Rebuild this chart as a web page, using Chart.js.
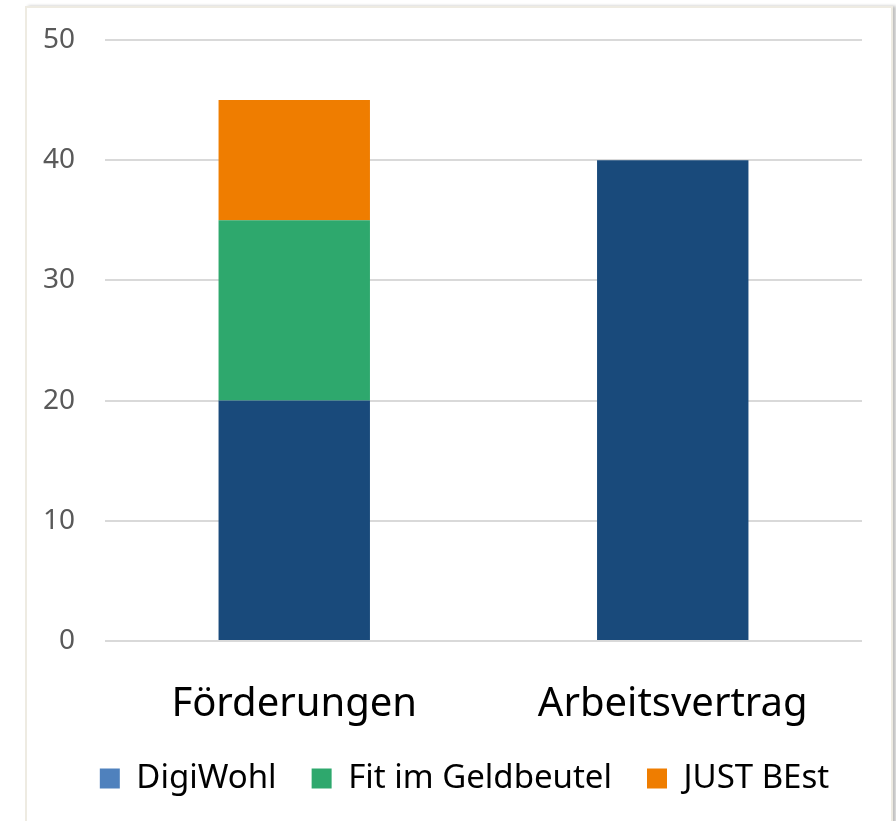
<!DOCTYPE html>
<html>
<head>
<meta charset="utf-8">
<script src="https://cdn.jsdelivr.net/npm/chart.js@4"></script>
<style>
  body { margin: 0; background: #ffffff; }
  #frame {
    position: absolute; left: 25px; top: 6px; width: 864px; height: 840px;
    border: 2px solid #eeebe2; box-shadow: 3px 0 3px rgba(0,0,0,0.25); background: #fff;
  }
  #wrap { position: absolute; left: 0; top: 0; width: 864px; height: 815px; }
</style>
</head>
<body>
<div id="frame"><div id="wrap"><canvas id="chart"></canvas></div></div>
<script>
const categories = ['Förderungen', 'Arbeitsvertrag'];
const seriesNames = ['DigiWohl', 'Fit im Geldbeutel', 'JUST BEst'];
const digiWohl = [20, 40];
const fitImGeldbeutel = [15, 0];
const justBest = [10, 0];
const yTicks = [0, 10, 20, 30, 40, 50];

const barColors = ['#194a7b', '#2ea86d', '#ef7d00'];
const legendColors = ['#4f81bd', '#2ea86d', '#ef7d00'];

// nudge the legend a bit to the right, like in the original
const shiftLegend = {
    id: 'shiftLegend',
    afterLayout(chart) {
        chart.legend.left += 20;
        chart.legend.right += 20;
    }
};

const ctx = document.getElementById('chart').getContext('2d');
new Chart(ctx, {
    type: 'bar',
    data: {
        labels: categories,
        datasets: [
            { label: seriesNames[0], data: digiWohl, backgroundColor: barColors[0] },
            { label: seriesNames[1], data: fitImGeldbeutel, backgroundColor: barColors[1] },
            { label: seriesNames[2], data: justBest, backgroundColor: barColors[2] }
        ]
    },
    plugins: [shiftLegend],
    options: {
        responsive: true,
        maintainAspectRatio: false,
        animation: false,
        categoryPercentage: 1,
        barPercentage: 0.4,
        layout: { padding: { top: 32, right: 29, bottom: 18, left: 0 } },
        plugins: {
            tooltip: { enabled: false },
            legend: {
                position: 'bottom',
                labels: {
                    font: { family: 'Noto Sans', size: 33 },
                    color: '#000',
                    boxWidth: 20,
                    boxHeight: 20,
                    padding: 35,
                    generateLabels: (chart) => chart.data.datasets.map((ds, i) => ({
                        text: ds.label,
                        fillStyle: legendColors[i],
                        strokeStyle: legendColors[i],
                        lineWidth: 0,
                        datasetIndex: i
                    }))
                }
            }
        },
        scales: {
            x: {
                stacked: true,
                grid: { display: false },
                border: { display: false },
                afterFit: (scale) => { scale.height = 86; },
                ticks: { font: { family: 'Noto Sans', size: 40 }, color: '#000', padding: 32 }
            },
            y: {
                stacked: true,
                min: 0,
                max: 50,
                afterBuildTicks: (scale) => { scale.ticks = yTicks.map(v => ({ value: v })); },
                afterFit: (scale) => { scale.width = 78; scale.paddingTop = 0; scale.paddingBottom = 0; },
                grid: { color: '#d9d9d9', lineWidth: 2, drawTicks: false },
                border: { display: false },
                ticks: { font: { family: 'Noto Sans', size: 28 }, color: '#595959', padding: 30 }
            }
        }
    }
});
</script>
</body>
</html>
